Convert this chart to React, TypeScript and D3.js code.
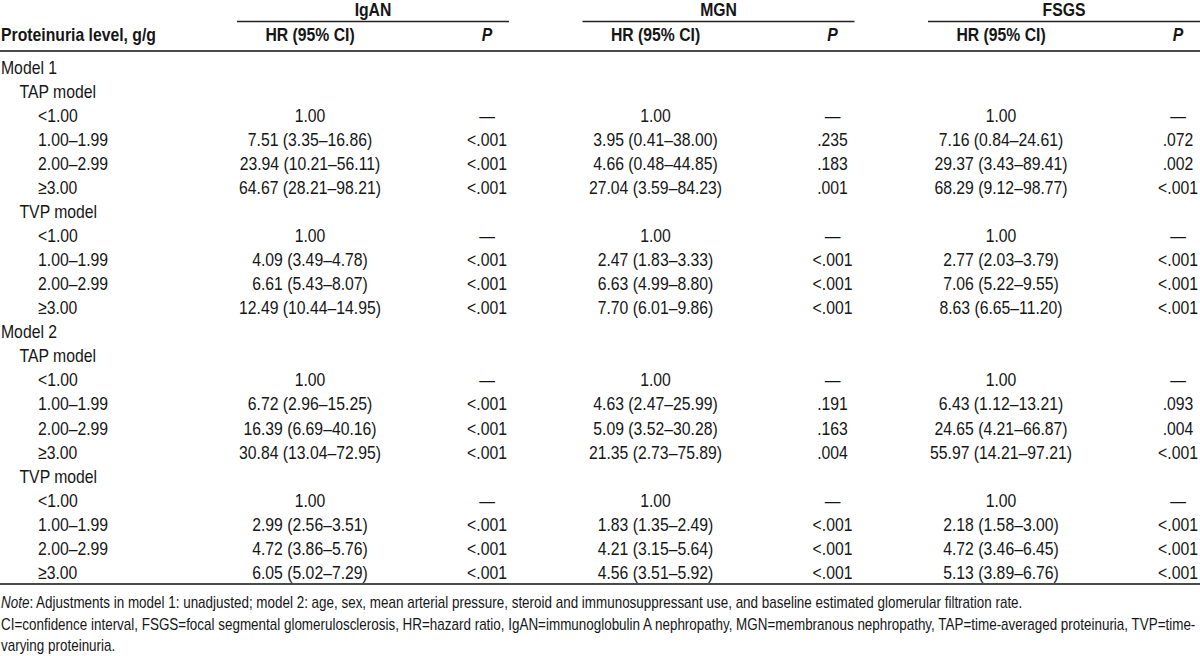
import React from "react";
import * as d3 from "d3";

const groups = ["IgAN", "MGN", "FSGS"];
const subHeaders = ["HR (95% CI)", "P"];
const stubHeader = "Proteinuria level, g/g";

const rowLabels = [
  "Model 1", "TAP model", "<1.00", "1.00–1.99", "2.00–2.99", "≥3.00",
  "TVP model", "<1.00", "1.00–1.99", "2.00–2.99", "≥3.00",
  "Model 2", "TAP model", "<1.00", "1.00–1.99", "2.00–2.99", "≥3.00",
  "TVP model", "<1.00", "1.00–1.99", "2.00–2.99", "≥3.00",
];
const rowIndent = [0, 1, 2, 2, 2, 2, 1, 2, 2, 2, 2, 0, 1, 2, 2, 2, 2, 1, 2, 2, 2, 2];

const igaHR = [
  "", "", "1.00", "7.51 (3.35–16.86)", "23.94 (10.21–56.11)", "64.67 (28.21–98.21)",
  "", "1.00", "4.09 (3.49–4.78)", "6.61 (5.43–8.07)", "12.49 (10.44–14.95)",
  "", "", "1.00", "6.72 (2.96–15.25)", "16.39 (6.69–40.16)", "30.84 (13.04–72.95)",
  "", "1.00", "2.99 (2.56–3.51)", "4.72 (3.86–5.76)", "6.05 (5.02–7.29)",
];
const igaP = [
  "", "", "—", "<.001", "<.001", "<.001",
  "", "—", "<.001", "<.001", "<.001",
  "", "", "—", "<.001", "<.001", "<.001",
  "", "—", "<.001", "<.001", "<.001",
];
const mgnHR = [
  "", "", "1.00", "3.95 (0.41–38.00)", "4.66 (0.48–44.85)", "27.04 (3.59–84.23)",
  "", "1.00", "2.47 (1.83–3.33)", "6.63 (4.99–8.80)", "7.70 (6.01–9.86)",
  "", "", "1.00", "4.63 (2.47–25.99)", "5.09 (3.52–30.28)", "21.35 (2.73–75.89)",
  "", "1.00", "1.83 (1.35–2.49)", "4.21 (3.15–5.64)", "4.56 (3.51–5.92)",
];
const mgnP = [
  "", "", "—", ".235", ".183", ".001",
  "", "—", "<.001", "<.001", "<.001",
  "", "", "—", ".191", ".163", ".004",
  "", "—", "<.001", "<.001", "<.001",
];
const fsgsHR = [
  "", "", "1.00", "7.16 (0.84–24.61)", "29.37 (3.43–89.41)", "68.29 (9.12–98.77)",
  "", "1.00", "2.77 (2.03–3.79)", "7.06 (5.22–9.55)", "8.63 (6.65–11.20)",
  "", "", "1.00", "6.43 (1.12–13.21)", "24.65 (4.21–66.87)", "55.97 (14.21–97.21)",
  "", "1.00", "2.18 (1.58–3.00)", "4.72 (3.46–6.45)", "5.13 (3.89–6.76)",
];
const fsgsP = [
  "", "", "—", ".072", ".002", "<.001",
  "", "—", "<.001", "<.001", "<.001",
  "", "", "—", ".093", ".004", "<.001",
  "", "—", "<.001", "<.001", "<.001",
];

const noteLabel = "Note";
const noteText =
  ": Adjustments in model 1: unadjusted; model 2: age, sex, mean arterial pressure, steroid and immunosuppressant use, and baseline estimated glomerular filtration rate.";
const abbrevLines = [
  "CI=confidence interval, FSGS=focal segmental glomerulosclerosis, HR=hazard ratio, IgAN=immunoglobulin A nephropathy, MGN=membranous nephropathy, TAP=time-averaged proteinuria, TVP=time-",
  "varying proteinuria.",
];

const W = 1200;
const H = 656;
const FONT = "'Liberation Sans', Arial, sans-serif";
const SX = 0.83;
const INK = "#161616";

const groupCols = [
  { hr: igaHR, p: igaP },
  { hr: mgnHR, p: mgnP },
  { hr: fsgsHR, p: fsgsP },
];

function T({ x, y, anchor = "start", size = 19, sx = SX, weight = "normal", italic = false, children }: any) {
  return (
    <text
      transform={`translate(${x},${y}) scale(${sx},1)`}
      textAnchor={anchor}
      fontFamily={FONT}
      fontSize={size}
      fontWeight={weight}
      fontStyle={italic ? "italic" : "normal"}
      fill={INK}
    >
      {children}
    </text>
  );
}

export default function App() {
  const y = d3.scalePoint<number>().domain(d3.range(rowLabels.length)).range([67, 572]);
  const gx = d3.scalePoint<string>().domain(groups).range([237, 928]);
  const groupWidth = 272;
  const hrOffset = 73;
  const pOffset = 250;
  const indent = d3.scaleLinear().domain([0, 2]).range([1, 38]);
  const base = 6.8;

  return (
    <svg width={W} height={H} style={{ position: "absolute", left: 0, top: 0, background: "#fff" }}>
      <rect x={0} y={0} width={W} height={H} fill="#fff" />
      {groups.map((g) => {
        const x0 = gx(g)!;
        return (
          <g key={g}>
            <T x={x0 + groupWidth / 2} y={16} anchor="middle" weight="bold">{g}</T>
            <line x1={x0} x2={Math.min(x0 + groupWidth, W)} y1={21.5} y2={21.5} stroke="#222" strokeWidth={1.3} />
            <T x={x0 + hrOffset} y={41} anchor="middle" weight="bold">{subHeaders[0]}</T>
            <T x={x0 + pOffset} y={41} anchor="middle" weight="bold" italic>{subHeaders[1]}</T>
          </g>
        );
      })}
      <T x={1} y={41} weight="bold">{stubHeader}</T>
      <line x1={0} x2={W} y1={51} y2={51} stroke="#4a4a4a" strokeWidth={2.2} />

      {rowLabels.map((lab, i) => (
        <g key={i}>
          <T x={indent(rowIndent[i])} y={y(i)! + base}>{lab}</T>
          {groupCols.map((c, gi) => {
            const x0 = gx(groups[gi])!;
            return (
              <g key={gi}>
                {c.hr[i] && <T x={x0 + hrOffset} y={y(i)! + base} anchor="middle">{c.hr[i]}</T>}
                {c.p[i] && <T x={x0 + pOffset} y={y(i)! + base} anchor="middle">{c.p[i]}</T>}
              </g>
            );
          })}
        </g>
      ))}

      <line x1={0} x2={W} y1={584} y2={584} stroke="#4a4a4a" strokeWidth={1.8} />

      <text transform={`translate(1,608) scale(0.84,1)`} fontFamily={FONT} fontSize={16} fill={INK}>
        <tspan fontStyle="italic">{noteLabel}</tspan>
        <tspan>{noteText}</tspan>
      </text>
      {abbrevLines.map((l, i) => (
        <T key={i} x={1} y={630 + i * 21} size={16} sx={0.84}>{l}</T>
      ))}
    </svg>
  );
}
